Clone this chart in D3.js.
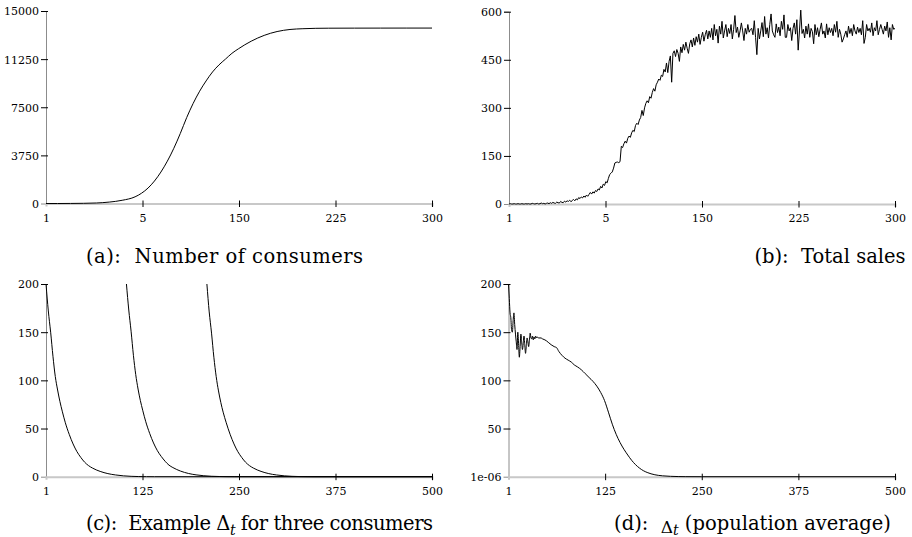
<!DOCTYPE html>
<html><head><meta charset="utf-8">
<script src="https://cdn.jsdelivr.net/npm/d3@7"></script>
<style>
html,body{margin:0;padding:0;background:#fff;}
svg{display:block;}
</style></head>
<body>
<svg id="chart" width="912" height="537"></svg>
<script>
// ---------- DATA ----------
// (a) Number of consumers
const aT = [1,10,20,30,40,50,60,70,75,80,85,90,95,100,105,110,115,120,125,130,135,140,145,150,160,170,180,190,200,210,220,240,260,280,300];
const aV = [0,0,5,15,40,110,250,520,800,1200,1750,2450,3300,4300,5450,6700,7800,8750,9550,10250,10800,11250,11700,12050,12650,13100,13400,13560,13620,13650,13660,13665,13668,13670,13670];
// (b) Total sales, t = 1..300
const bV = [
0,1,0,0,1,0,0,1,0,0, 1,0,0,1,0,1,0,0,2,1,
0,1,2,0,1,3,1,2,0,2, 3,1,4,2,5,3,2,6,4,3,
8,5,4,9,6,10,8,12,7,11, 14,10,16,13,20,17,22,19,25,21,
28,24,30,36,31,38,34,42,39,47, 44,55,50,62,58,70,66,80,92,96,
100,112,128,130,131,129,132,180,176,188, 196,190,205,212,208,222,230,226,245,252,
248,262,270,292,276,300,314,322,316,335, 330,348,360,352,372,380,390,386,402,398,
420,412,440,410,445,462,380,470,478,460, 482,470,445,490,472,498,480,505,486,470,
500,512,490,518,495,522,505,530,498,520, 536,508,528,542,515,540,520,548,512,560,
525,545,502,555,530,570,518,540,560,522, 548,532,560,515,545,588,535,552,520,540,
565,540,510,548,530,560,536,545,548,528, 572,520,466,548,515,540,566,522,585,530,
550,518,560,593,540,528,520,562,535,552, 525,570,545,590,520,520,560,540,550,510,
548,565,530,575,480,540,605,532,545,518, 555,530,562,520,548,538,500,560,528,550,
522,545,565,530,540,518,562,528,550,535, 548,525,560,536,570,520,545,530,505,515,
528,540,520,555,532,548,525,560,540,530, 552,535,548,528,572,501,520,560,540,548,
536,565,525,550,540,572,528,545,560,545, 530,555,540,568,520,550,512,560,545,548
];
// (c) Example Delta_t for three consumers
const c1T = [1,4,7,10,13,16,19,22,26,31,36,41,46,51,56,61,71,81,91,101,111,121,131,141,500];
const c1V = [200,172,150,125,104,90,78,68,56,44,34,26,20,15,11.5,9,5.5,3.2,1.8,0.9,0.4,0.15,0.05,0,0];
const c2T = [105,108,111,114,117,120,123,126,130,135,140,145,150,155,160,165,175,185,195,205,215,225,235,245,500];
const c2V = [200,173,151,126,106,91,79,69,57,45,35,27,21,16,12,9.5,5.8,3.4,1.9,1,0.45,0.2,0.05,0,0];
const c3T = [209,212,215,218,221,224,227,230,234,239,244,249,254,259,264,269,279,289,299,309,319,329,339,349,500];
const c3V = [200,171,149,124,104,89,77,67,56,44,34,26,20,15,11.5,9,5.5,3.2,1.8,0.9,0.4,0.15,0.05,0,0];
// (d) Delta_t population average
const dT = [1,2,3,4,5,6,7,8,9,10,11,12,13,14,15,16,17,18,19,20,21,22,23,24,25,26,27,28,29,30,31,32,33,34,35,36,37,38,40,43,45,48,50,53,56,60,63,66,70,74,78,82,86,90,95,100,105,110,115,120,125,130,135,140,145,150,155,160,165,170,175,180,185,190,200,210,220,230,250,500];
const dV = [200,185,170,165,152,150,162,170,158,148,140,132,150,138,124,135,148,140,132,138,146,137,128,136,144,140,135,142,149,144,143,146,142,145,143,146,144,145,144,144,143,142,141,139,137,135,134,130,126,123,121,119,116,114,111,107,103,99,94,87.5,79,67,54.5,44,35.5,28.5,22.5,17,12.5,9,6.3,4.4,3,2,0.9,0.4,0.15,0.05,0,0];

// tick labels
const xTicksA = [1,75.75,150.5,225.25,300];
const xLabelsA = ["1","5","150","225","300"];
const yTicksA = [0,3750,7500,11250,15000];
const yLabelsA = ["0","3750","7500","11250","15000"];
const yTicksB = [0,150,300,450,600];
const yLabelsB = ["0","150","300","450","600"];
const xTicksC = [1,125.75,250.5,375.25,500];
const xLabelsC = ["1","125","250","375","500"];
const yTicksC = [0,50,100,150,200];
const yLabelsC = ["0","50","100","150","200"];
const yLabelsD = ["1e-06","50","100","150","200"];

const captions = [
  {x:224.5, y:263, w:277, parts:[["(a):  Number of consumers"]]},
  {x:830, y:263, w:null, parts:[["(b):  Total sales"]]},
  {x:259.5, y:530, w:347, parts:[["(c):  Example "],["Δ"],["t","sub"],[" for three consumers"]]},
  {x:752.5, y:530, w:null, parts:[["(d):  "],["Δ","low"],["t","sub"],[" (population average)"]]}
];

// ---------- DRAW ----------
const TICKFONT = '"DejaVu Serif",serif';
const CAPFONT = '"DejaVu Serif",serif';
const svg = d3.select("#chart");

function panel(box, xDom, yDom, xT, xL, yT, yL, series, curve){
  const x = d3.scaleLinear().domain(xDom).range([box.x0, box.x1]);
  const y = d3.scaleLinear().domain(yDom).range([box.y1, box.y0]);
  const g = svg.append("g");

  const ya = g.append("g").attr("transform",`translate(${box.x0},0)`)
    .call(d3.axisLeft(y).tickValues(yT).tickFormat((d,i)=>yL[i]).tickSizeOuter(0).tickSize(5));
  ya.attr("font-family",null).attr("font-size",null);
  ya.select(".domain").attr("stroke","#8c8c8c").attr("stroke-width",1);
  ya.selectAll(".tick line").attr("stroke","#000").attr("x1",2).attr("x2",-5)
    .attr("opacity",(d,i)=> i===0?0:1);
  ya.selectAll(".tick text").attr("x",-7).attr("dy","0.36em")
    .attr("font-family",TICKFONT).attr("font-size",11).attr("fill","#000");

  const xa = g.append("g").attr("transform",`translate(0,${box.y1})`)
    .call(d3.axisBottom(x).tickValues(xT).tickFormat((d,i)=>xL[i]).tickSizeOuter(0).tickSize(3));
  xa.attr("font-family",null).attr("font-size",null);
  xa.select(".domain").attr("stroke","#c8c8c8").attr("stroke-width",2);
  xa.selectAll(".tick line").attr("stroke","#000").attr("y1",-3).attr("y2",3.5)
    .attr("opacity",(d,i)=> i===0?0:1);
  xa.selectAll(".tick text").attr("y",18).attr("dy","0")
    .attr("font-family",TICKFONT).attr("font-size",11).attr("fill","#000");

  const line = d3.line().x(d=>x(d[0])).y(d=>y(d[1])).curve(curve);
  series.forEach(s=>{
    g.append("path").datum(s).attr("d",line)
      .attr("fill","none").attr("stroke","#000").attr("stroke-width",1);
  });
}

const zip = (T,V)=> T.map((t,i)=>[t,V[i]]);

panel({x0:46,x1:432,y0:11,y1:203.5},[1,300],[0,15000],xTicksA,xLabelsA,yTicksA,yLabelsA,
  [zip(aT,aV)], d3.curveMonotoneX);
panel({x0:509,x1:895,y0:11.7,y1:204},[1,300],[0,600],xTicksA,xLabelsA,yTicksB,yLabelsB,
  [bV.map((v,i)=>[i+1,v])], d3.curveLinear);
panel({x0:46,x1:432,y0:284,y1:476.7},[1,500],[0,200],xTicksC,xLabelsC,yTicksC,yLabelsC,
  [zip(c1T,c1V),zip(c2T,c2V),zip(c3T,c3V)], d3.curveMonotoneX);
panel({x0:508.5,x1:895,y0:284,y1:476.7},[1,500],[0,200],xTicksC,xLabelsC,yTicksC,yLabelsD,
  [zip(dT,dV)], d3.curveMonotoneX);

captions.forEach(c=>{
  const t = svg.append("text").attr("x",c.x).attr("y",c.y).attr("text-anchor","middle")
    .attr("font-family",CAPFONT).attr("font-size",19.5).style("white-space","pre").attr("fill","#000");
  if(c.w) t.attr("textLength",c.w).attr("lengthAdjust","spacing");
  let shift = 0;
  c.parts.forEach(p=>{
    const ts = t.append("tspan").text(p[0]);
    let target = 0;
    if(p[1]==="sub"){ ts.attr("font-style","italic").attr("font-size",14); target = 5; }
    else if(p[1]==="low"){ ts.attr("font-size",17); target = 3; }
    if(target!==shift){ ts.attr("dy", target-shift); shift = target; }
  });
});
</script>
</body></html>
